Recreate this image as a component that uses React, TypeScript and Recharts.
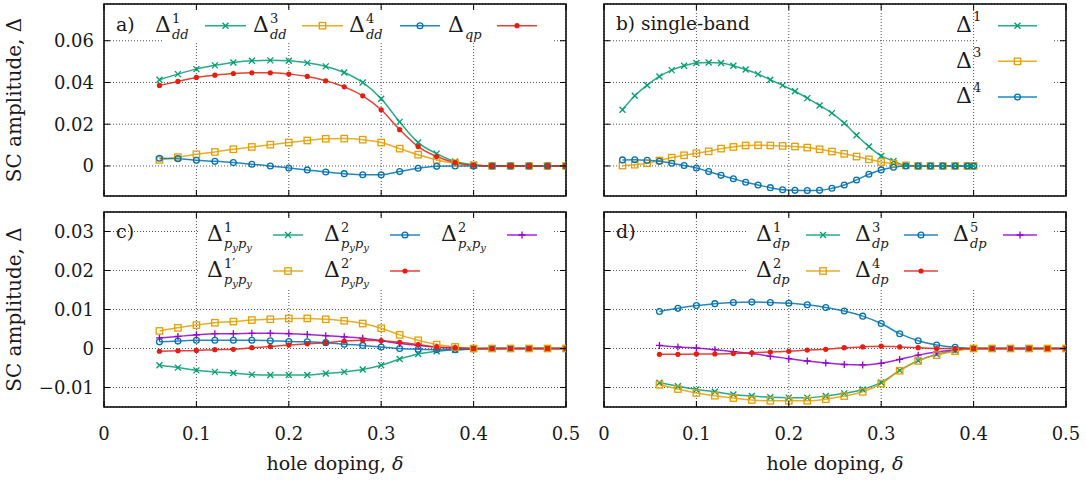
import React from 'react';
import { LineChart, Line, XAxis, YAxis, CartesianGrid, ReferenceArea } from 'recharts';

const FONT = 'DejaVu Serif';
const INK = '#1a1a1a';
const GREEN = '#009e73';
const ORANGE = '#e69f00';
const BLUE = '#0072b2';
const RED = '#e51e10';
const PURPLE = '#9400d3';

// ---------- data ----------
const dopingFull = [0.06, 0.08, 0.1, 0.12, 0.14, 0.16, 0.18, 0.2, 0.22, 0.24, 0.26, 0.28, 0.3, 0.32, 0.34, 0.36, 0.38, 0.4, 0.42, 0.44, 0.46, 0.48, 0.5];
const dopingSingle = [0.02, 0.0333, 0.0467, 0.06, 0.0733, 0.0867, 0.1, 0.1133, 0.1267, 0.14, 0.1533, 0.1667, 0.18, 0.1933, 0.2067, 0.22, 0.2333, 0.2467, 0.26, 0.2733, 0.2867, 0.3, 0.3133, 0.3267, 0.34, 0.3533, 0.3667, 0.38, 0.3933, 0.4];

const xTicks = [0, 0.1, 0.2, 0.3, 0.4, 0.5];
const xTickLabels = ['0', '0.1', '0.2', '0.3', '0.4', '0.5'];
const yTicksTop = [0, 0.02, 0.04, 0.06];
const yTickLabelsTop = ['0', '0.02', '0.04', '0.06'];
const yTicksBottom = [-0.01, 0, 0.01, 0.02, 0.03];
const yTickLabelsBottom = ['\u22120.01', '0', '0.01', '0.02', '0.03'];

// panel a) multi-band d-wave
const dd1 = [0.0413, 0.044, 0.0464, 0.0482, 0.0496, 0.0504, 0.0506, 0.0504, 0.0494, 0.0477, 0.0448, 0.04, 0.0322, 0.0211, 0.0112, 0.0059, 0.0021, 0.0006, 0, 0, 0, 0, 0];
const dd3 = [0.0029, 0.0042, 0.0056, 0.0067, 0.008, 0.0091, 0.0102, 0.0112, 0.0122, 0.013, 0.0131, 0.0126, 0.0112, 0.0083, 0.0054, 0.0029, 0.0013, 0.0003, 0, 0, 0, 0, 0];
const dd4 = [0.0037, 0.0035, 0.0027, 0.0022, 0.0016, 0.0008, 0, -0.001, -0.0019, -0.0029, -0.0037, -0.0042, -0.0042, -0.0027, -0.0011, -0.0002, 0, 0, 0, 0, 0, 0, 0];
const qp = [0.0386, 0.0405, 0.0424, 0.0435, 0.0443, 0.0446, 0.0446, 0.044, 0.0429, 0.0408, 0.0379, 0.0336, 0.0269, 0.0174, 0.0093, 0.0045, 0.0016, 0.0003, 0, 0, 0, 0, 0];

// panel b) single-band
const sb1 = [0.0269, 0.0336, 0.0387, 0.0429, 0.0459, 0.048, 0.0493, 0.0496, 0.0493, 0.048, 0.0462, 0.044, 0.0413, 0.0386, 0.0358, 0.0325, 0.029, 0.0253, 0.0205, 0.0147, 0.0093, 0.0048, 0.0024, 0.0002, 0, 0, 0, 0, 0, 0];
const sb3 = [0.0002, 0.0006, 0.0013, 0.0026, 0.004, 0.0051, 0.0061, 0.007, 0.0083, 0.0091, 0.0098, 0.0099, 0.0098, 0.0096, 0.0093, 0.0088, 0.008, 0.0069, 0.0058, 0.0045, 0.0032, 0.0019, 0.0011, 0.0003, 0, 0, 0, 0, 0, 0];
const sb4 = [0.0029, 0.003, 0.0027, 0.0022, 0.0013, 0.0002, -0.001, -0.0027, -0.0045, -0.0061, -0.0078, -0.0091, -0.0104, -0.0114, -0.0117, -0.0118, -0.0117, -0.0107, -0.0091, -0.0067, -0.004, -0.0019, -0.0006, 0, 0, 0, 0, 0, 0, 0];

// panel c) p-p pairing
const pp1 = [-0.0043, -0.0049, -0.0056, -0.006, -0.0063, -0.0067, -0.0068, -0.0068, -0.0068, -0.0064, -0.006, -0.0054, -0.0043, -0.0027, -0.0014, -0.0007, -0.0003, -0.0001, 0, 0, 0, 0, 0];
const pp2 = [0.0017, 0.0019, 0.0021, 0.0021, 0.0021, 0.0021, 0.002, 0.0018, 0.0017, 0.0015, 0.0011, 0.0008, 0.0004, 0, -0.0002, -0.0003, -0.0003, -0.0001, 0, 0, 0, 0, 0];
const pxpy2 = [0.0027, 0.0031, 0.0035, 0.0038, 0.0038, 0.0039, 0.0039, 0.0038, 0.0036, 0.0033, 0.003, 0.0026, 0.002, 0.0013, 0.0008, 0.0003, 0.0001, 0, 0, 0, 0, 0, 0];
const pp1p = [0.0045, 0.0053, 0.006, 0.0066, 0.0069, 0.0073, 0.0075, 0.0077, 0.0077, 0.0075, 0.0071, 0.0064, 0.0052, 0.0035, 0.0021, 0.001, 0.0004, 0, 0, 0, 0, 0, 0];
const pp2p = [-0.0007, -0.0006, -0.0005, -0.0003, -0.0002, 0.0002, 0.0005, 0.0009, 0.0012, 0.0015, 0.0019, 0.0021, 0.002, 0.0016, 0.001, 0.0004, 0.0002, 0, 0, 0, 0, 0, 0];

// panel d) d-p pairing
const dp1 = [-0.0088, -0.0097, -0.0105, -0.0111, -0.0118, -0.0122, -0.0125, -0.0126, -0.0126, -0.0122, -0.0115, -0.0105, -0.0087, -0.0056, -0.0031, -0.0015, -0.0005, 0, 0, 0, 0, 0, 0];
const dp2 = [-0.0093, -0.0104, -0.0114, -0.0121, -0.0127, -0.0132, -0.0134, -0.0134, -0.0134, -0.013, -0.0122, -0.0111, -0.009, -0.0057, -0.0032, -0.0017, -0.0007, 0, 0, 0, 0, 0, 0];
const dp3 = [0.0095, 0.0103, 0.011, 0.0115, 0.0118, 0.0119, 0.0118, 0.0116, 0.0112, 0.0105, 0.0096, 0.0083, 0.0064, 0.0038, 0.002, 0.0009, 0.0003, 0, 0, 0, 0, 0, 0];
const dp4 = [-0.0015, -0.0015, -0.0014, -0.0014, -0.0013, -0.0011, -0.0009, -0.0007, -0.0004, -0.0002, 0.0002, 0.0004, 0.0006, 0.0004, 0.0002, 0, 0, 0, 0, 0, 0, 0, 0];
const dp5 = [0.0008, 0.0004, 0.0001, -0.0003, -0.0008, -0.0013, -0.002, -0.0026, -0.0032, -0.0037, -0.0041, -0.0042, -0.0038, -0.0028, -0.0017, -0.0009, -0.0003, 0, 0, 0, 0, 0, 0];

const rowsA = dopingFull.map((x, i) => ({ x, dd1: dd1[i], dd3: dd3[i], dd4: dd4[i], qp: qp[i] }));
const rowsB = dopingSingle.map((x, i) => ({ x, sb1: sb1[i], sb3: sb3[i], sb4: sb4[i] }));
const rowsC = dopingFull.map((x, i) => ({ x, pp1: pp1[i], pp2: pp2[i], pxpy2: pxpy2[i], pp1p: pp1p[i], pp2p: pp2p[i] }));
const rowsD = dopingFull.map((x, i) => ({ x, dp1: dp1[i], dp2: dp2[i], dp3: dp3[i], dp4: dp4[i], dp5: dp5[i] }));

// ---------- geometry ----------
type Geo = { left: number; right: number; top: number; bottom: number };
const geoA: Geo = { left: 104, right: 566, top: 4, bottom: 196 };
const geoB: Geo = { left: 604, right: 1066, top: 4, bottom: 196 };
const geoC: Geo = { left: 104, right: 566, top: 212, bottom: 407 };
const geoD: Geo = { left: 604, right: 1066, top: 212, bottom: 407 };
const domTop: [number, number] = [-0.0144, 0.0776];
const domBottom: [number, number] = [-0.015, 0.035];

type Shape = 'x' | 'square' | 'circle' | 'dot' | 'plus';

function Marker({ shape, cx, cy, color }: { shape: Shape; cx: number; cy: number; color: string }) {
  const s = 3;
  switch (shape) {
    case 'x':
      return <path d={`M${cx - s},${cy - s}L${cx + s},${cy + s}M${cx - s},${cy + s}L${cx + s},${cy - s}`} stroke={color} strokeWidth={1.3} fill="none" />;
    case 'plus':
      return <path d={`M${cx - 3.5},${cy}L${cx + 3.5},${cy}M${cx},${cy - 3.5}L${cx},${cy + 3.5}`} stroke={color} strokeWidth={1.3} fill="none" />;
    case 'square':
      return <rect x={cx - 3.2} y={cy - 3.2} width={6.4} height={6.4} stroke={color} strokeWidth={1.3} fill="none" />;
    case 'circle':
      return <circle cx={cx} cy={cy} r={2.9} stroke={color} strokeWidth={1.3} fill="none" />;
    default:
      return <circle cx={cx} cy={cy} r={2.6} fill={color} stroke="none" />;
  }
}

const makeDot = (shape: Shape, color: string) => (p: any) => {
  if (p.cx == null || p.cy == null) return <g key={`e${p.index}`} />;
  return <g key={`m${p.index}`}><Marker shape={shape} cx={p.cx} cy={p.cy} color={color} /></g>;
};

const near = (a: number, b: number) => Math.abs(a - b) < 1e-9;

const makeYTick = (g: Geo, ticks: number[], labels: string[], show: boolean) => (p: any) => {
  const y = p.y;
  const idx = ticks.findIndex((t) => near(t, p.payload.value));
  return (
    <g>
      <line x1={g.left} x2={g.left + 6} y1={y} y2={y} stroke="#000" strokeWidth={1} />
      <line x1={g.right - 6} x2={g.right} y1={y} y2={y} stroke="#000" strokeWidth={1} />
      {show && (
        <text x={g.left - 10} y={y} dy="0.36em" textAnchor="end" fontFamily={FONT} fontSize={18} fill={INK}>
          {labels[idx]}
        </text>
      )}
    </g>
  );
};

const makeXTick = (g: Geo, show: boolean) => (p: any) => {
  const x = p.x;
  const idx = xTicks.findIndex((t) => near(t, p.payload.value));
  return (
    <g>
      <line x1={x} x2={x} y1={g.bottom} y2={g.bottom - 6} stroke="#000" strokeWidth={1} />
      <line x1={x} x2={x} y1={g.top} y2={g.top + 6} stroke="#000" strokeWidth={1} />
      {show && (
        <text x={x} y={440} textAnchor="middle" fontFamily={FONT} fontSize={18} fill={INK}>
          {xTickLabels[idx]}
        </text>
      )}
    </g>
  );
};

type Series = { key: string; color: string; shape: Shape };

function Panel({ geo, data, domain, yTicks, yLabels, showY, showX, series }: {
  geo: Geo; data: any[]; domain: [number, number]; yTicks: number[]; yLabels: string[]; showY: boolean; showX: boolean; series: Series[];
}) {
  const margin = { left: geo.left - 40, right: 1086 - geo.right, top: geo.top, bottom: 483 - geo.bottom - 30 };
  return (
    <div style={{ position: 'absolute', left: 0, top: 0, width: 1086, height: 483 }}>
      <LineChart width={1086} height={483} margin={margin} data={data}>
        <CartesianGrid stroke="#555" strokeDasharray="1 2" strokeWidth={1} />
        <XAxis type="number" dataKey="x" domain={[0, 0.5]} ticks={xTicks} interval={0} height={30}
          axisLine={false} tickLine={false} tick={makeXTick(geo, showX)} allowDataOverflow />
        <YAxis type="number" domain={domain} ticks={yTicks} interval={0} width={40}
          axisLine={false} tickLine={false} tick={makeYTick(geo, yTicks, yLabels, showY)} allowDataOverflow />
        <ReferenceArea x1={0} x2={0.5} y1={domain[0]} y2={domain[1]} fill="none" stroke="#000" strokeWidth={1.5} />
        {series.map((s) => (
          <Line key={s.key} type="monotone" dataKey={s.key} stroke={s.color} strokeWidth={1.5} strokeOpacity={0.85}
            dot={makeDot(s.shape, s.color)} activeDot={false} isAnimationActive={false} />
        ))}
      </LineChart>
    </div>
  );
}

// ---------- legend / annotation overlay ----------
type SubPart = { t: string; small?: boolean };
function DeltaText({ x, base, sup, sub, supDy = -9 }: { x: number; base: number; sup?: string; sub?: SubPart[]; supDy?: number }) {
  return (
    <g fill={INK}>
      <text x={x} y={base} fontSize={22} fontFamily={FONT}>Δ</text>
      {sup && <text x={x + 17} y={base + supDy} fontSize={13} fontFamily={FONT}>{sup}</text>}
      {sub && sub.length > 0 && (
        <text x={x + 17} y={base + 7} fontSize={13} fontStyle="italic" fontFamily={FONT}>
          <tspan>{sub[0].t}</tspan>
          {sub.slice(1).map((s, i) => {
            const prevSmall = sub[i].small;
            const dy = s.small && !prevSmall ? 3 : !s.small && prevSmall ? -3 : 0;
            return <tspan key={i} dy={dy} fontSize={s.small ? 10 : 13}>{s.t}</tspan>;
          })}
        </text>
      )}
    </g>
  );
}

function Sample({ x1, x2, y, color, shape }: { x1: number; x2: number; y: number; color: string; shape: Shape }) {
  return (
    <g>
      <line x1={x1} x2={x2} y1={y} y2={y} stroke={color} strokeWidth={1.5} strokeOpacity={0.85} />
      <Marker shape={shape} cx={(x1 + x2) / 2} cy={y} color={color} />
    </g>
  );
}

const PY: SubPart[] = [{ t: 'p' }, { t: 'y', small: true }, { t: 'p' }, { t: 'y', small: true }];
const PXPY: SubPart[] = [{ t: 'p' }, { t: 'x', small: true }, { t: 'p' }, { t: 'y', small: true }];

function Overlay() {
  return (
    <svg width={1086} height={483} style={{ position: 'absolute', left: 0, top: 0, pointerEvents: 'none' }}>
      {/* legend backgrounds */}
      <rect x={162} y={10} width={390} height={33} fill="#fff" />
      <rect x={978} y={10} width={74} height={100} fill="#fff" />
      <rect x={198} y={218} width={354} height={70} fill="#fff" />
      <rect x={747} y={218} width={305} height={70} fill="#fff" />

      {/* panel a legend */}
      <DeltaText x={155} base={32} sup="1" sub={[{ t: 'dd' }]} />
      <Sample x1={205} x2={246} y={25.7} color={GREEN} shape="x" />
      <DeltaText x={253} base={32} sup="3" sub={[{ t: 'dd' }]} />
      <Sample x1={302} x2={343} y={25.7} color={ORANGE} shape="square" />
      <DeltaText x={349} base={32} sup="4" sub={[{ t: 'dd' }]} />
      <Sample x1={400} x2={440} y={25.7} color={BLUE} shape="circle" />
      <DeltaText x={448} base={32} sub={[{ t: 'qp' }]} />
      <Sample x1={497} x2={537} y={25.7} color={RED} shape="dot" />

      {/* panel b legend */}
      <DeltaText x={956} base={32} sup="1" supDy={-11} />
      <Sample x1={998} x2={1037} y={25.7} color={GREEN} shape="x" />
      <DeltaText x={956} base={67.5} sup="3" supDy={-11} />
      <Sample x1={998} x2={1037} y={61.3} color={ORANGE} shape="square" />
      <DeltaText x={956} base={103} sup="4" supDy={-11} />
      <Sample x1={998} x2={1037} y={97} color={BLUE} shape="circle" />

      {/* panel c legend */}
      <DeltaText x={207} base={241} sup="1" sub={PY} />
      <Sample x1={273} x2={303} y={235} color={GREEN} shape="x" />
      <DeltaText x={324} base={241} sup="2" sub={PY} />
      <Sample x1={390} x2={420} y={235} color={BLUE} shape="circle" />
      <DeltaText x={441} base={241} sup="2" sub={PXPY} />
      <Sample x1={507} x2={537} y={235} color={PURPLE} shape="plus" />
      <DeltaText x={207} base={277} sup={'1\u2032'} sub={PY} />
      <Sample x1={273} x2={303} y={271} color={ORANGE} shape="square" />
      <DeltaText x={324} base={277} sup={'2\u2032'} sub={PY} />
      <Sample x1={390} x2={420} y={271} color={RED} shape="dot" />

      {/* panel d legend */}
      <DeltaText x={756} base={241} sup="1" sub={[{ t: 'dp' }]} />
      <Sample x1={806} x2={840} y={235} color={GREEN} shape="x" />
      <DeltaText x={855} base={241} sup="3" sub={[{ t: 'dp' }]} />
      <Sample x1={904} x2={938} y={235} color={BLUE} shape="circle" />
      <DeltaText x={953} base={241} sup="5" sub={[{ t: 'dp' }]} />
      <Sample x1={1003} x2={1037} y={235} color={PURPLE} shape="plus" />
      <DeltaText x={756} base={277} sup="2" sub={[{ t: 'dp' }]} />
      <Sample x1={806} x2={840} y={271} color={ORANGE} shape="square" />
      <DeltaText x={855} base={277} sup="4" sub={[{ t: 'dp' }]} />
      <Sample x1={904} x2={938} y={271} color={RED} shape="dot" />

      {/* panel labels and axis titles */}
      <g fill={INK}>
        <text x={116} y={31} fontFamily={FONT} fontSize={19}>a)</text>
        <text x={616} y={30} fontFamily={FONT} fontSize={18.5}>b) single-band</text>
        <text x={116} y={238} fontFamily={FONT} fontSize={19}>c)</text>
        <text x={616} y={238} fontFamily={FONT} fontSize={19}>d)</text>

        <text transform="translate(21,100) rotate(-90)" textAnchor="middle" fontFamily={FONT} fontSize={20}>SC amplitude, Δ</text>
        <text transform="translate(21,309.5) rotate(-90)" textAnchor="middle" fontFamily={FONT} fontSize={20}>SC amplitude, Δ</text>
        <text x={335} y={470} textAnchor="middle" fontFamily={FONT} fontSize={19}>hole doping, <tspan fontStyle="italic">δ</tspan></text>
        <text x={835} y={470} textAnchor="middle" fontFamily={FONT} fontSize={19}>hole doping, <tspan fontStyle="italic">δ</tspan></text>
      </g>
    </svg>
  );
}

export default function App() {
  return (
    <div style={{ position: 'absolute', left: 0, top: 0, width: 1086, height: 483, background: '#fff', overflow: 'hidden' }}>
      <Panel geo={geoA} data={rowsA} domain={domTop} yTicks={yTicksTop} yLabels={yTickLabelsTop} showY showX={false}
        series={[
          { key: 'dd1', color: GREEN, shape: 'x' },
          { key: 'dd3', color: ORANGE, shape: 'square' },
          { key: 'dd4', color: BLUE, shape: 'circle' },
          { key: 'qp', color: RED, shape: 'dot' },
        ]} />
      <Panel geo={geoB} data={rowsB} domain={domTop} yTicks={yTicksTop} yLabels={yTickLabelsTop} showY={false} showX={false}
        series={[
          { key: 'sb1', color: GREEN, shape: 'x' },
          { key: 'sb3', color: ORANGE, shape: 'square' },
          { key: 'sb4', color: BLUE, shape: 'circle' },
        ]} />
      <Panel geo={geoC} data={rowsC} domain={domBottom} yTicks={yTicksBottom} yLabels={yTickLabelsBottom} showY showX
        series={[
          { key: 'pp1', color: GREEN, shape: 'x' },
          { key: 'pp2', color: BLUE, shape: 'circle' },
          { key: 'pxpy2', color: PURPLE, shape: 'plus' },
          { key: 'pp1p', color: ORANGE, shape: 'square' },
          { key: 'pp2p', color: RED, shape: 'dot' },
        ]} />
      <Panel geo={geoD} data={rowsD} domain={domBottom} yTicks={yTicksBottom} yLabels={yTickLabelsBottom} showY={false} showX
        series={[
          { key: 'dp1', color: GREEN, shape: 'x' },
          { key: 'dp3', color: BLUE, shape: 'circle' },
          { key: 'dp5', color: PURPLE, shape: 'plus' },
          { key: 'dp2', color: ORANGE, shape: 'square' },
          { key: 'dp4', color: RED, shape: 'dot' },
        ]} />
      <Overlay />
    </div>
  );
}
